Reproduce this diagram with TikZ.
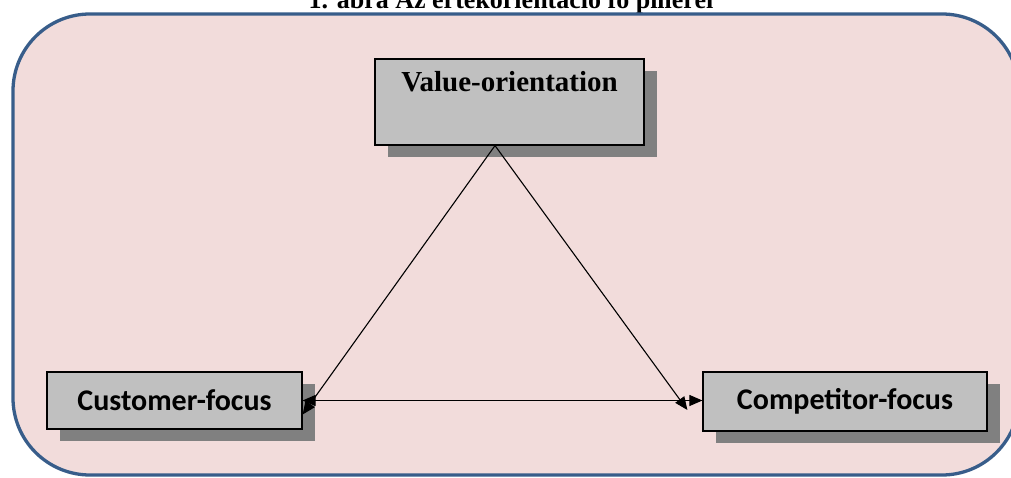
\documentclass[tikz,border=0pt]{standalone}
\usepackage{fontspec}
\setmainfont{Liberation Serif}
\newfontfamily\boxfont{Carlito}
\usetikzlibrary{arrows.meta,shadows}
\definecolor{framefill}{HTML}{F2DCDB}
\definecolor{frameline}{HTML}{385D8A}
\definecolor{boxfill}{HTML}{C0C0C0}
\definecolor{boxshadow}{HTML}{808080}
\tikzset{
  pillar/.style={draw=black, line width=1.2pt, fill=boxfill, inner sep=0pt,
    drop shadow={shadow xshift=13pt, shadow yshift=-12pt, fill=boxshadow, opacity=1}},
  tip/.style={Triangle[length=13pt,width=11pt]},
  link/.style={line width=1.1pt, -{Triangle[length=13pt,width=11pt]}},
}
\begin{document}
\begin{tikzpicture}[x=1pt,y=-1pt]
  \clip (0,0) rectangle (1011,478);
  % caption, partly above the page
  \node[anchor=base, font=\bfseries\fontsize{26}{28}\selectfont, inner sep=0pt] (title)
    at (511,8.5) {1. ábra Az értékorientáció fő pillérei};
  % rounded background panel
  \draw[frameline, line width=3.3pt, fill=framefill, rounded corners=77pt]
    (13,14) rectangle (1019,475);
  % the three pillars
  \node[pillar, minimum width=269pt, text height=33pt, text depth=53pt,
        font=\bfseries\fontsize{29}{31}\selectfont] (val) at (509.5,102) {Value-orientation};
  \node[pillar, minimum width=255pt, minimum height=57pt,
        font=\boxfont\bfseries\fontsize{30}{32}\selectfont] (cust) at (174.5,400.5) {Customer-focus};
  \node[pillar, minimum width=284pt, minimum height=59pt,
        font=\boxfont\bfseries\fontsize{30}{32}\selectfont] (comp) at (845,401.5) {Competitor-focus};
  % connectors
  \coordinate (apex) at ([xshift=-14.5pt]val.south);
  \coordinate (custend) at ([yshift=-14pt]cust.east);
  \coordinate (compend) at ([xshift=-15pt,yshift=-8.5pt]comp.west);
  \draw[link] (apex) -- (custend);
  \draw[link] (apex) -- (compend);
  \draw[link, {Triangle[length=13pt,width=11pt]}-{Triangle[length=13pt,width=11pt]}]
    (cust.east) -- (cust.east -| comp.west);
\end{tikzpicture}
\end{document}
